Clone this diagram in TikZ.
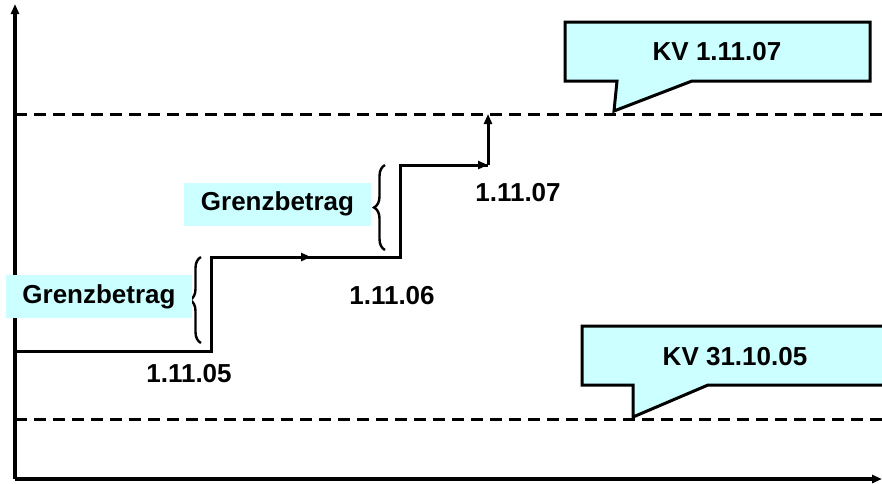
\documentclass[tikz,border=0pt]{standalone}
\usepackage{fontspec}
\setmainfont{Liberation Sans}
\usetikzlibrary{arrows.meta,decorations.pathreplacing}
\definecolor{callcyan}{HTML}{CCFFFF}
\tikzset{
  axisline/.style={line width=3.2pt,-{Triangle[length=10pt,width=8pt]}},
  dashline/.style={line width=3pt,dash pattern=on 12pt off 7pt},
  stairline/.style={line width=3pt},
  stairarrow/.style={line width=3pt,-{Triangle[length=10pt,width=8pt]}},
  datelabel/.style={font=\fontsize{26}{30}\selectfont\bfseries,inner sep=0pt},
  gblabel/.style={fill=callcyan,font=\fontsize{26}{30}\selectfont\bfseries,inner sep=0pt,minimum height=43pt,align=center},
  gbbrace/.style={line width=2.4pt,decorate,decoration={brace,amplitude=11pt,aspect=0.5}},
  callout/.style={fill=callcyan,draw=black,line width=3pt,line join=miter},
  callouttext/.style={font=\fontsize{26}{30}\selectfont\bfseries,inner sep=0pt}
}
\begin{document}
\begin{tikzpicture}[x=1pt,y=-1pt]
\useasboundingbox (0,0) rectangle (882,483);
% dashed levels
\coordinate (du0) at (15,114); \coordinate (du1) at (882,114);
\coordinate (dl0) at (15,419); \coordinate (dl1) at (882,419);
\draw[dashline] (du0) -- (du1);
\draw[dashline] (dl0) -- (dl1);
% callouts
\draw[callout] (565,22) -- (870,22) -- (870,81) -- (692,81) -- (614,111) -- (617,81) -- (565,81) -- cycle;
\node[callouttext] (kv1) at (717,52) {KV 1.11.07};
\draw[callout] (582,326) -- (892,326) -- (892,385) -- (708,385) -- (633,417) -- (633,385) -- (582,385) -- cycle;
\node[callouttext] (kv2) at (735,357) {KV 31.10.05};
% axes
\coordinate (orig) at (15,479);
\coordinate (ytop) at (15,4);
\coordinate (xend) at (882,479);
\draw[axisline] (orig) -- (ytop);
\draw[axisline] (orig) -- (xend);
% staircase
\coordinate (s0) at (15,351);
\coordinate (s1) at (211,351);
\coordinate (s2) at (211,257);
\coordinate (s3) at (311,257);
\coordinate (s4) at (400,257);
\coordinate (s5) at (400,165);
\coordinate (s6) at (488,165);
\coordinate (s7) at (488,114);
\draw[stairline,line join=miter] (s0) -- (s1) -- (s2) -- (s3);
\draw[stairarrow] (s2) -- (s3);
\draw[stairline,line join=miter] (s3) -- (s4) -- (s5) -- (s6);
\draw[stairarrow] (s5) -- (s6);
\draw[stairarrow] (s6) -- (s7);
% braces
\coordinate (b1a) at (201,343); \coordinate (b1b) at (201,257);
\coordinate (b2a) at (385,250); \coordinate (b2b) at (385,165);
\draw[gbbrace] (b1a) -- (b1b);
\draw[gbbrace] (b2a) -- (b2b);
% Grenzbetrag labels
\node[gblabel,minimum width=186pt] (gb1) at (99,296.5) {Grenzbetrag};
\node[gblabel,minimum width=187pt] (gb2) at (277.5,204) {Grenzbetrag};
% date labels
\node[datelabel] (d1) at (189,374) {1.11.05};
\node[datelabel] (d2) at (392,296) {1.11.06};
\node[datelabel] (d3) at (518,193) {1.11.07};
\end{tikzpicture}
\end{document}
